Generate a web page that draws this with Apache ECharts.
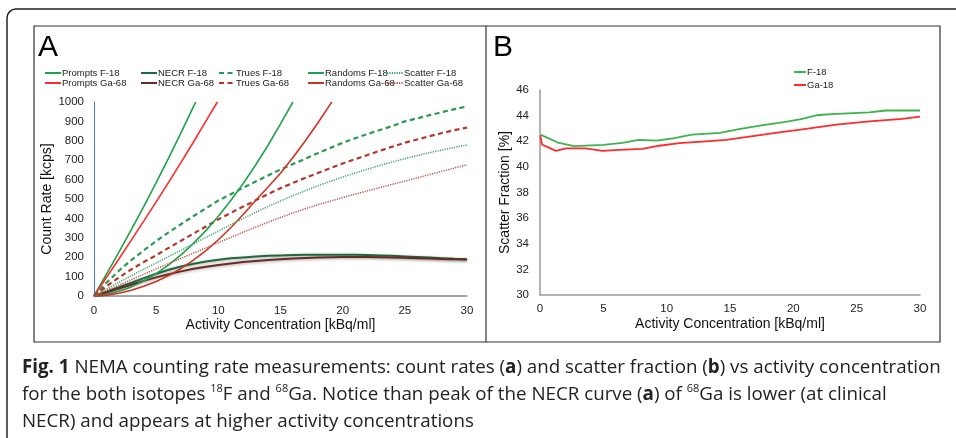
<!DOCTYPE html>
<html><head><meta charset="utf-8">
<script src="https://cdn.jsdelivr.net/npm/echarts@6/dist/echarts.min.js"></script>
<style>html,body{margin:0;padding:0;background:#fff}#c{width:956px;height:438px}</style>
</head><body><div id="c"></div>
<script>
// ---------- Panel A data (count rates, kcps) ----------
const xInt = [0,1,2,3,4,5,6,7,8,9,10,11,12,13,14,15,16,17,18,19,20,21,22,23,24,25,26,27,28,29,30];
const promptsF18X = [0,1,2,3,4,5,6,7,8,8.18];
const promptsF18  = [0,112,226,342,461,584,711,842,976,1000];
const promptsGa68X = [0,1,2,3,4,5,6,7,8,9,9.92];
const promptsGa68  = [0,95,191,288,386,485,586,689,794,901,1000];
const necrF18  = [0,22,45,68,92,115,135,152,166,178,187,194,199,203,207,209,211,212,213,213,213,212,211,209,207,204,201,198,195,192,190];
const necrGa68 = [0,18,38,58,78,96,112,127,140,151,160,168,175,180,185,189,193,196,198,200,201,201,201,200,199,197,195,193,191,189,188];
const truesF18  = [0,68,130,185,235,283,328,370,412,452,492,525,558,590,621,652,680,708,736,763,790,813,835,856,876,900,916,932,948,963,977];
const truesGa68 = [0,50,95,137,175,210,248,285,322,358,395,428,461,493,525,556,583,609,634,659,683,705,727,749,770,790,807,824,840,855,868];
const randomsF18X = [0,1,2,3,4,5,6,7,8,9,10,11,12,13,14,15,16];
const randomsF18  = [0,8,24,47,77,115,160,212,271,337,411,492,580,675,777,887,1000];
const randomsGa68X = [0,1,2,3,4,5,6,7,8,9,10,11,12,13,14,15,16,17,18,19,19.13];
const randomsGa68  = [0,4,14,30,50,75,105,142,185,234,290,352,420,492,562,633,714,800,892,988,1000];
const scatterF18  = [0,36,71,105,138,170,203,236,269,302,335,368,400,431,461,490,517,543,568,591,613,634,654,673,691,708,724,739,753,766,779];
const scatterGa68 = [0,28,56,84,112,140,167,194,221,248,275,302,329,355,380,405,428,450,470,489,507,525,542,559,576,592,609,626,643,660,676];

// ---------- Panel B data (scatter fraction, %) ----------
const sfF18X = [0.08,1.4,2.7,5,6.5,7.8,9.2,10.5,12,14.2,15.7,17.6,19.4,20.6,22,23.4,26,27.3,30];
const sfF18  = [42.5,41.9,41.62,41.72,41.88,42.1,42.05,42.22,42.52,42.66,42.95,43.25,43.52,43.72,44.05,44.13,44.25,44.4,44.4];
const sfGa18X = [0.02,0.16,1.25,2.05,3.6,4.95,6.25,8.1,9.4,11,12.8,14.7,16.8,18.6,20.7,23.4,26,28.6,30];
const sfGa18  = [42.45,41.75,41.25,41.45,41.45,41.25,41.32,41.4,41.65,41.85,41.97,42.1,42.4,42.66,42.92,43.3,43.55,43.75,43.92];

const pairs = (xs, ys) => ys.map((y, i) => [xs[i], y]);

const FONT = 'Liberation Sans, Arial, sans-serif';
const chart = echarts.init(document.getElementById('c'));

function lineSeries(name, xs, ys, color, width, type, ax, shadow) {
  const ls = { color, width, type };
  if (shadow) { ls.shadowColor = 'rgba(0,0,0,0.35)'; ls.shadowBlur = 3; ls.shadowOffsetY = 1; }
  return {
    name, type: 'line', data: pairs(xs, ys), xAxisIndex: ax, yAxisIndex: ax,
    symbol: 'none', showSymbol: false, smooth: false, clip: true,
    lineStyle: ls, itemStyle: { color },
    emphasis: { disabled: true }, animation: false
  };
}

const C = {
  pF: '#1fa04c', pG: '#ff2a2a', nF: '#1e6a3e', nG: '#6a2a22',
  tF: '#2a9a52', tG: '#b5352a', rF: '#22a04e', rG: '#cc3322',
  sF: '#3aa56a', sG: '#c0504d', bF: '#3cb44b', bG: '#ff2a2a'
};

const series = [
  lineSeries('Prompts F-18', promptsF18X, promptsF18, C.pF, 1.6, 'solid', 0),
  lineSeries('Prompts Ga-68', promptsGa68X, promptsGa68, C.pG, 1.6, 'solid', 0),
  lineSeries('NECR F-18', xInt, necrF18, C.nF, 2, 'solid', 0, true),
  lineSeries('NECR Ga-68', xInt, necrGa68, C.nG, 2, 'solid', 0, true),
  lineSeries('Trues F-18', xInt, truesF18, C.tF, 2.2, [5, 3.5], 0),
  lineSeries('Trues Ga-68', xInt, truesGa68, C.tG, 2.2, [5, 3.5], 0),
  lineSeries('Randoms F-18', randomsF18X, randomsF18, C.rF, 1.6, 'solid', 0),
  lineSeries('Randoms Ga-68', randomsGa68X, randomsGa68, C.rG, 1.6, 'solid', 0),
  lineSeries('Scatter F-18', xInt, scatterF18, C.sF, 1.5, [1.2, 1.2], 0),
  lineSeries('Scatter Ga-68', xInt, scatterGa68, C.sG, 1.5, [1.2, 1.2], 0),
  lineSeries('F-18', sfF18X, sfF18, C.bF, 1.8, 'solid', 1),
  lineSeries('Ga-18', sfGa18X, sfGa18, C.bG, 1.8, 'solid', 1)
];

const legendPos = [
  ['Prompts F-18', 44, 68], ['Prompts Ga-68', 44, 78],
  ['NECR F-18', 140, 68], ['NECR Ga-68', 140, 78],
  ['Trues F-18', 218, 68], ['Trues Ga-68', 218, 78],
  ['Randoms F-18', 307, 68], ['Randoms Ga-68', 307, 78],
  ['Scatter F-18', 386, 68], ['Scatter Ga-68', 386, 78]
];
const legText = { fontSize: 9.5, color: '#222', fontFamily: FONT, padding: [0, 0, 0, -4] };
const legends = legendPos.map(([n, l, t]) => ({
  data: [n], left: l, top: t, padding: 0, itemWidth: 16, itemHeight: 8,
  selectedMode: false, itemStyle: { opacity: 0 }, lineStyle: { width: 2 }, textStyle: legText
}));
legends.push(
  { data: ['F-18'], left: 793, top: 67, padding: 0, itemWidth: 12, itemHeight: 8, selectedMode: false,
    itemStyle: { opacity: 0 }, lineStyle: { width: 2 }, textStyle: legText },
  { data: ['Ga-18'], left: 793, top: 80, padding: 0, itemWidth: 12, itemHeight: 8, selectedMode: false,
    itemStyle: { opacity: 0 }, lineStyle: { width: 2 }, textStyle: legText }
);

const axLabel = { fontSize: 11.5, color: '#222', fontFamily: FONT, formatter: v => String(v) };
const axName = { fontSize: 14, color: '#111', fontFamily: FONT };

const capFont = '"Open Sans", sans-serif';
const capRich = {
  b: { fontWeight: 'bold', fontSize: 18.75, fontFamily: capFont, fill: '#222' },
  sup: { fontSize: 11, fontFamily: capFont, fill: '#222', verticalAlign: 'top', lineHeight: 22 }
};
function capLine(text, y) {
  return { type: 'text', left: 22, top: y, silent: true,
    style: { text, fontSize: 18.75, fontFamily: capFont, fill: '#222', rich: capRich, lineHeight: 24 } };
}

chart.setOption({
  animation: false,
  backgroundColor: '#fff',
  grid: [
    { left: 94, right: 956 - 467, top: 102, bottom: 438 - 296 },
    { left: 540, right: 956 - 920, top: 90, bottom: 438 - 295 }
  ],
  xAxis: [
    { type: 'value', gridIndex: 0, min: 0, max: 30, interval: 5,
      axisLine: { lineStyle: { color: '#8a8a8a', width: 1.5 } }, axisTick: { show: false },
      splitLine: { show: false }, axisLabel: { ...axLabel, margin: 9 },
      name: 'Activity Concentration [kBq/ml]', nameLocation: 'middle', nameGap: 21, nameTextStyle: axName },
    { type: 'value', gridIndex: 1, min: 0, max: 30, interval: 5,
      axisLine: { lineStyle: { color: '#9a9a9a', width: 1.5 } }, axisTick: { show: false },
      splitLine: { show: false }, axisLabel: { ...axLabel, margin: 8 },
      name: 'Activity Concentration [kBq/ml]', nameLocation: 'middle', nameGap: 22, nameTextStyle: axName }
  ],
  yAxis: [
    { type: 'value', gridIndex: 0, min: 0, max: 1000, interval: 100,
      axisLine: { show: true, lineStyle: { color: '#5070b0', width: 1 } }, axisTick: { show: false },
      splitLine: { show: false }, axisLabel: { ...axLabel, margin: 10 },
      name: 'Count Rate [kcps]', nameLocation: 'middle', nameGap: 34, nameTextStyle: axName },
    { type: 'value', gridIndex: 1, min: 30, max: 46, interval: 2,
      axisLine: { show: true, lineStyle: { color: '#9a9a9a', width: 1.5 } }, axisTick: { show: false },
      splitLine: { show: false }, axisLabel: { ...axLabel, margin: 11 },
      name: 'Scatter Fraction [%]', nameLocation: 'middle', nameGap: 26, nameTextStyle: axName }
  ],
  legend: legends,
  series,
  graphic: [
    { type: 'rect', silent: true, shape: { x: 7, y: 9, width: 1200, height: 1000, r: 9 },
      style: { fill: null, stroke: '#222', lineWidth: 1.5 } },
    { type: 'rect', silent: true, shape: { x: 34, y: 26, width: 906, height: 316 },
      style: { fill: null, stroke: '#333', lineWidth: 1.2 } },
    { type: 'line', silent: true, shape: { x1: 486, y1: 26, x2: 486, y2: 342 },
      style: { stroke: '#333', lineWidth: 1.2 } },
    { type: 'text', left: 38, top: 33, silent: true,
      style: { text: 'A', fontSize: 30, fontFamily: FONT, fill: '#000' } },
    { type: 'text', left: 493, top: 33, silent: true,
      style: { text: 'B', fontSize: 30, fontFamily: FONT, fill: '#000' } },
    capLine('{b|Fig. 1} NEMA counting rate measurements: count rates ({b|a}) and scatter fraction ({b|b}) vs activity concentration', 356),
    capLine('for the both isotopes {sup|18}F and {sup|68}Ga. Notice than peak of the NECR curve ({b|a}) of {sup|68}Ga is lower (at clinical', 383),
    capLine('NECR) and appears at higher activity concentrations', 410)
  ]
});
</script></body></html>
